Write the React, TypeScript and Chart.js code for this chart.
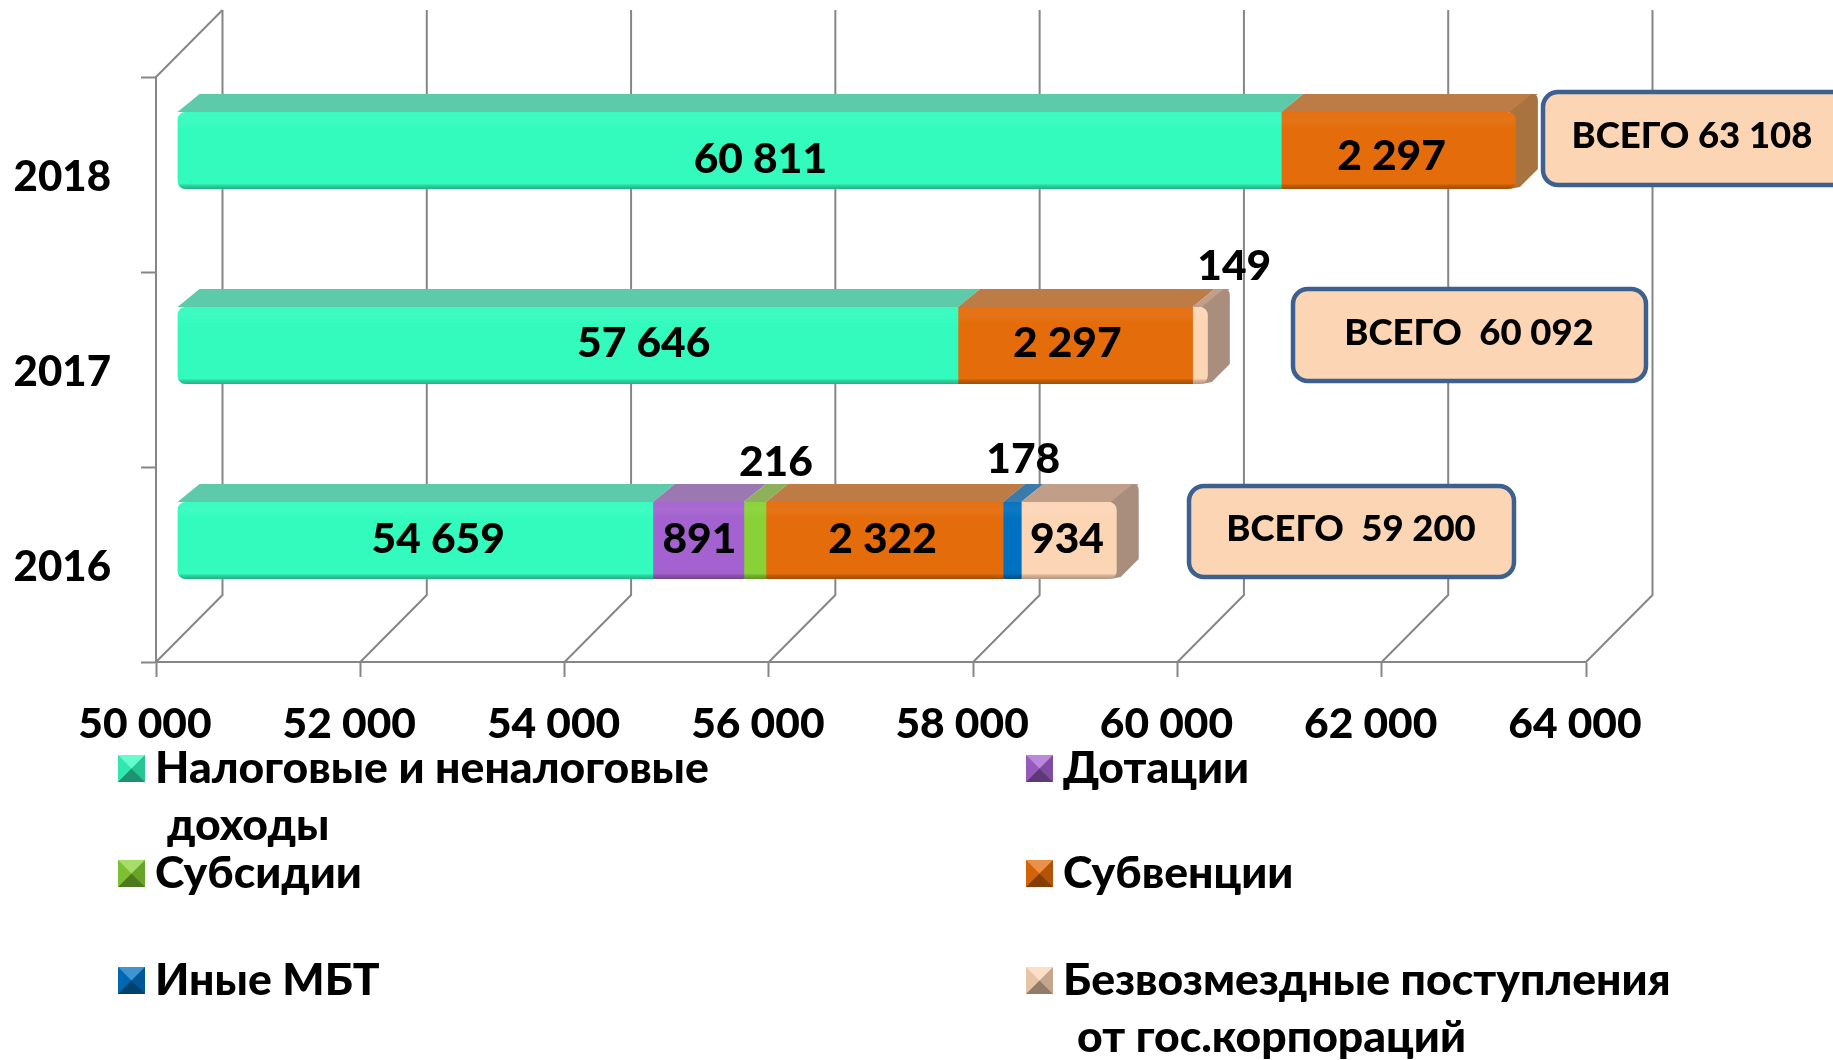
import React, { useEffect, useRef } from "react";
import { Chart, registerables } from "chart.js";

Chart.register(...registerables);

const years = ["2018", "2017", "2016"];
const taxIncome = [60811, 57646, 54659];
const grants = [null, null, 891];
const subsidies = [null, null, 216];
const subventions = [2297, 2297, 2322];
const otherTransfers = [null, null, 178];
const corporations = [null, 149, 934];
const totals = [63108, 60092, 59200];
const tickValues = [50000, 52000, 54000, 56000, 58000, 60000, 62000, 64000];
const seriesNames = [
  "Налоговые и неналоговые",
  "Дотации",
  "Субсидии",
  "Субвенции",
  "Иные МБТ",
  "Безвозмездные поступления",
];

const FONT = "Lato, 'Open Sans', 'Noto Sans', sans-serif";
const LABEL_FONT = `900 42.5px ${FONT}`;
const LEGEND_FONT = `900 44.5px ${FONT}`;
const AXIS = "#868686";
const fmt = (v: number) => String(v).replace(/\B(?=(\d{3})+(?!\d))/g, " ");

const palette = [
  { front: "#33FBBE", top: "#5DCBA9", side: "#5DCBA9" },
  { front: "#A362CF", top: "#9B78B2", side: "#9B78B2" },
  { front: "#88D136", top: "#8DB05A", side: "#8DB05A" },
  { front: "#E46C0A", top: "#BD7B45", side: "#A8733F" },
  { front: "#0070C0", top: "#3A7BAC", side: "#3A7BAC" },
  { front: "#FCD5B5", top: "#C09E8A", side: "#A98E7E" },
];

// bar depth and the shift of the bars' front plane
const DX = 22, DY = 18, SHIFT_X = 21, SHIFT_Y = -24;
const WALL = 66.5;

// label nudges from bar centre: [dataset][category] = [dx, dy]
const nudges: Record<string, [number, number]> = {
  "0-0": [31, 9], "0-1": [76, -2], "0-2": [23, -1],
  "1-2": [1, -1], "2-2": [21, -78],
  "3-0": [-7, 6], "3-1": [-8, -2], "3-2": [-2, -1],
  "4-2": [11, -81], "5-1": [34, -79], "5-2": [-2, -1],
};

const boxes = [
  { cat: 0, l: 1543, t: 92, r: 1850, b: 185, tx: 1692, text: (v: string) => `ВСЕГО ${v}` },
  { cat: 1, l: 1293, t: 289, r: 1646, b: 381, tx: 1469, text: (v: string) => `ВСЕГО  ${v}` },
  { cat: 2, l: 1189, t: 486, r: 1514, b: 577, tx: 1351, text: (v: string) => `ВСЕГО  ${v}` },
];

const legendLayout = [
  { x: 118, y: 755, idx: 0, extra: "доходы", ex: 167, ey: 826 },
  { x: 1026, y: 755, idx: 1 },
  { x: 118, y: 860, idx: 2 },
  { x: 1026, y: 860, idx: 3 },
  { x: 118, y: 967, idx: 4 },
  { x: 1026, y: 967, idx: 5, extra: "от гос.корпораций", ex: 1077, ey: 1038 },
];

function eachBar(chart: any, fn: (ds: number, i: number, b: any) => void) {
  chart.data.datasets.forEach((_: any, ds: number) => {
    chart.getDatasetMeta(ds).data.forEach((b: any, i: number) => {
      if (chart.data.datasets[ds].data[i] != null) fn(ds, i, b);
    });
  });
}

const chart3d = {
  id: "chart3d",
  beforeDatasetsDraw(chart: any) {
    const { ctx, chartArea: a, scales } = chart;
    ctx.save();
    ctx.strokeStyle = AXIS;
    ctx.lineWidth = 2;
    // back wall and floor
    scales.x.ticks.forEach((t: any) => {
      const x = scales.x.getPixelForValue(t.value);
      ctx.beginPath();
      ctx.moveTo(x + WALL, a.top - 67);
      ctx.lineTo(x + WALL, a.bottom - 67);
      ctx.lineTo(x, a.bottom);
      ctx.stroke();
    });
    ctx.beginPath();
    ctx.moveTo(a.left, a.top);
    ctx.lineTo(a.left + WALL, a.top - 67);
    ctx.stroke();
    ctx.restore();

    ctx.save();
    ctx.translate(SHIFT_X, SHIFT_Y);
    // top and side faces
    eachBar(chart, (ds, i, b) => {
      const top = b.y - b.height / 2;
      const bot = b.y + b.height / 2;
      ctx.fillStyle = palette[ds].top;
      ctx.beginPath();
      ctx.moveTo(b.base, top);
      ctx.lineTo(b.x, top);
      ctx.lineTo(b.x + DX, top - DY);
      ctx.lineTo(b.base + DX, top - DY);
      ctx.closePath();
      ctx.fill();
      const last = chart.data.datasets.every((d: any, k: number) => k <= ds || d.data[i] == null);
      if (last) {
        ctx.fillStyle = palette[ds].side;
        ctx.beginPath();
        ctx.moveTo(b.x - 6, top);
        ctx.lineTo(b.x + DX - 6, top - DY);
        ctx.quadraticCurveTo(b.x + DX, top - DY, b.x + DX, top - DY + 6);
        ctx.lineTo(b.x + DX, bot - DY - 2);
        ctx.lineTo(b.x + 4, bot - 2);
        ctx.lineTo(b.x - 6, bot);
        ctx.closePath();
        ctx.fill();
      }
    });
    // rounded ends of each stacked bar
    ctx.beginPath();
    years.forEach((_, i) => {
      let lo = Infinity, hi = -Infinity, y = 0, h = 0;
      eachBar(chart, (_d, k, b) => {
        if (k !== i) return;
        lo = Math.min(lo, b.base);
        hi = Math.max(hi, b.x);
        y = b.y;
        h = b.height;
      });
      ctx.roundRect(lo, y - h / 2, hi - lo, h, 8);
    });
    ctx.clip();
  },
  afterDatasetsDraw(chart: any) {
    const { ctx } = chart;
    // shading over the front faces
    eachBar(chart, (_ds, _i, b) => {
      const top = b.y - b.height / 2;
      const bot = b.y + b.height / 2;
      const g = ctx.createLinearGradient(0, top, 0, bot);
      g.addColorStop(0, "rgba(255,255,255,0.03)");
      g.addColorStop(0.1, "rgba(255,255,255,0.06)");
      g.addColorStop(0.22, "rgba(255,255,255,0)");
      g.addColorStop(0.93, "rgba(0,0,0,0)");
      g.addColorStop(0.95, "rgba(0,0,0,0.14)");
      g.addColorStop(1, "rgba(0,0,0,0.3)");
      ctx.fillStyle = g;
      ctx.fillRect(b.base, top, b.x - b.base, b.height);
    });
    ctx.restore();

    // value labels
    ctx.save();
    ctx.font = LABEL_FONT;
    ctx.fillStyle = "#000";
    ctx.textAlign = "center";
    ctx.textBaseline = "middle";
    eachBar(chart, (ds, i, b) => {
      const [dx, dy] = nudges[`${ds}-${i}`] || [0, 0];
      const cx = (b.base + b.x) / 2 + SHIFT_X + dx;
      const cy = b.y + SHIFT_Y + dy;
      ctx.fillText(fmt(chart.data.datasets[ds].data[i]), cx, cy);
    });

    // total callouts
    boxes.forEach((bx) => {
      ctx.beginPath();
      ctx.roundRect(bx.l, bx.t, bx.r - bx.l, bx.b - bx.t, 15);
      ctx.fillStyle = "#FCD5B5";
      ctx.fill();
      ctx.lineWidth = 4.5;
      ctx.strokeStyle = "#3C6090";
      ctx.stroke();
      ctx.fillStyle = "#000";
      ctx.font = `900 36.5px ${FONT}`;
      ctx.fillText(bx.text(fmt(totals[bx.cat])), bx.tx, (bx.t + bx.b) / 2 - 2);
    });

    // legend
    ctx.textAlign = "left";
    legendLayout.forEach((item) => {
      const { x, y, idx } = item;
      const c = palette[idx].front;
      const s = 27;
      ctx.fillStyle = c;
      ctx.fillRect(x, y, s, s);
      const tri = (pts: number[], col: string) => {
        ctx.fillStyle = col;
        ctx.beginPath();
        ctx.moveTo(pts[0], pts[1]);
        ctx.lineTo(pts[2], pts[3]);
        ctx.lineTo(s / 2 + x, s / 2 + y);
        ctx.closePath();
        ctx.fill();
      };
      tri([x, y, x + s, y], "rgba(255,255,255,0.25)");
      tri([x, y + s, x + s, y + s], "rgba(0,0,0,0.42)");
      tri([x, y, x, y + s], "rgba(0,0,0,0.08)");
      tri([x + s, y, x + s, y + s], "rgba(0,0,0,0.22)");
      ctx.fillStyle = "#000";
      ctx.font = LEGEND_FONT;
      ctx.fillText(seriesNames[idx], x + 37, y + 14);
      if (item.extra) ctx.fillText(item.extra, item.ex!, item.ey!);
    });
    ctx.restore();
  },
};

const seriesData = [taxIncome, grants, subsidies, subventions, otherTransfers, corporations];

export default function App() {
  const ref = useRef<HTMLCanvasElement>(null);
  useEffect(() => {
    const chart = new Chart(ref.current!, {
      type: "bar",
      data: {
        labels: years,
        datasets: seriesData.map((d, k) => ({
          label: seriesNames[k],
          data: d,
          backgroundColor: palette[k].front,
          barThickness: 77,
          clip: false,
          ...(k === 0 ? { base: 50000 } : {}),
        })),
      } as any,
      options: {
        indexAxis: "y",
        responsive: false,
        animation: false,
        layout: { padding: { left: 0, top: 77, right: 1833 - 1586, bottom: 0 } },
        plugins: { legend: { display: false }, tooltip: { enabled: false }, title: { display: false } },
        scales: {
          x: {
            type: "linear",
            stacked: true,
            min: 50000,
            max: 64000,
            afterBuildTicks: (s: any) => {
              s.ticks = tickValues.map((value) => ({ value }));
            },
            afterFit: (s: any) => {
              s.height = 1060 - 662;
            },
            grid: { drawOnChartArea: false, drawTicks: true, tickLength: 15, tickColor: AXIS, tickWidth: 2 },
            border: { color: AXIS, width: 2 },
            ticks: {
              color: "#000",
              font: { family: FONT, size: 42.5, weight: "900" },
              maxRotation: 0,
              autoSkip: false,
              padding: 22,
              labelOffset: -11,
              callback: (v: any) => fmt(v),
            },
          },
          y: {
            type: "category",
            stacked: true,
            afterFit: (s: any) => {
              s.width = 156;
            },
            grid: { drawOnChartArea: false, drawTicks: true, tickLength: 15, tickColor: AXIS, tickWidth: 2 },
            border: { color: AXIS, width: 2 },
            ticks: {
              color: "#000",
              font: { family: FONT, size: 42, weight: "900" },
              padding: 30,
              labelOffset: 3,
            },
          },
        },
      } as any,
      plugins: [chart3d],
    });
    return () => chart.destroy();
  }, []);
  return (
    <div style={{ position: "absolute", left: 0, top: 0, width: 1833, height: 1060, overflow: "hidden", background: "#fff" }}>
      <canvas ref={ref} width={1833} height={1060} style={{ display: "block" }} />
    </div>
  );
}
